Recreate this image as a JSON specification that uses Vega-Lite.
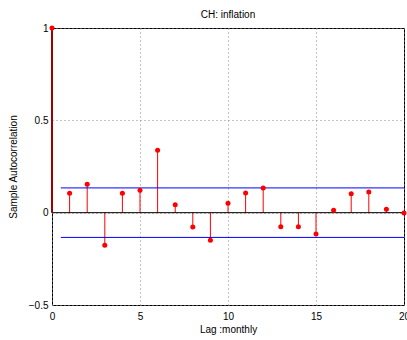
{
  "$schema": "https://vega.github.io/schema/vega-lite/v6.json",
  "width": 352,
  "height": 277,
  "autosize": "none",
  "padding": {"left": 52, "top": 28, "right": 3, "bottom": 35},
  "background": "white",
  "config": {
    "font": "Liberation Sans",
    "view": {"stroke": "black", "strokeWidth": 1},
    "axis": {"labelFont": "Liberation Sans", "titleFont": "Liberation Sans", "labelColor": "black", "titleColor": "black", "titleFontWeight": "normal", "labelFontSize": 10, "titleFontSize": 10}
  },
  "title": {"text": "CH: inflation", "fontSize": 10, "fontWeight": "normal", "font": "Liberation Sans", "offset": 3, "color": "black"},
  "datasets": {
    "acf": [
      {"lag": 0, "acf": 1.0},
      {"lag": 1, "acf": 0.105},
      {"lag": 2, "acf": 0.154},
      {"lag": 3, "acf": -0.177},
      {"lag": 4, "acf": 0.105},
      {"lag": 5, "acf": 0.121},
      {"lag": 6, "acf": 0.338},
      {"lag": 7, "acf": 0.043},
      {"lag": 8, "acf": -0.078},
      {"lag": 9, "acf": -0.150},
      {"lag": 10, "acf": 0.051},
      {"lag": 11, "acf": 0.107},
      {"lag": 12, "acf": 0.134},
      {"lag": 13, "acf": -0.076},
      {"lag": 14, "acf": -0.076},
      {"lag": 15, "acf": -0.115},
      {"lag": 16, "acf": 0.013},
      {"lag": 17, "acf": 0.103},
      {"lag": 18, "acf": 0.112},
      {"lag": 19, "acf": 0.018},
      {"lag": 20, "acf": -0.002}
    ],
    "upper": [{"bstart": 0.5, "bend": 20, "bval": 0.134}],
    "lower": [{"bstart": 0.5, "bend": 20, "bval": -0.134}],
    "zero": [{"zstart": 0, "zend": 20, "zval": 0}]
  },
  "layer": [
    {
      "data": {"name": "acf"},
      "mark": {"type": "rule", "stroke": "#ff0000", "strokeWidth": 1},
      "encoding": {
        "x": {"field": "lag", "type": "quantitative", "scale": {"domain": [0, 20], "nice": false},
          "axis": {"values": [0, 5, 10, 15, 20], "grid": true, "gridDash": [1, 3], "gridColor": "#888888", "gridOpacity": 1, "ticks": false, "domain": false, "labelPadding": 6, "labelFlush": false, "title": "Lag :monthly", "titlePadding": 3}},
        "y": {"field": "acf", "type": "quantitative", "scale": {"domain": [-0.5, 1], "nice": false},
          "axis": {"values": [-0.5, 0, 0.5, 1], "format": "~g", "grid": true, "gridDash": [1, 3], "gridColor": "#888888", "gridOpacity": 1, "ticks": false, "domain": false, "labelPadding": 4, "labelFlush": false, "title": "Sample Autocorrelation", "titlePadding": 10}},
        "y2": {"datum": 0}
      }
    },
    {
      "data": {"name": "zero"},
      "mark": {"type": "rule", "stroke": "black", "strokeWidth": 1},
      "encoding": {
        "x": {"field": "zstart", "type": "quantitative"},
        "x2": {"field": "zend"},
        "y": {"field": "zval", "type": "quantitative"}
      }
    },
    {
      "data": {"name": "upper"},
      "mark": {"type": "rule", "stroke": "#0000ff", "strokeWidth": 1},
      "encoding": {
        "x": {"field": "bstart", "type": "quantitative"},
        "x2": {"field": "bend"},
        "y": {"field": "bval", "type": "quantitative"}
      }
    },
    {
      "data": {"name": "lower"},
      "mark": {"type": "rule", "stroke": "#0000ff", "strokeWidth": 1},
      "encoding": {
        "x": {"field": "bstart", "type": "quantitative"},
        "x2": {"field": "bend"},
        "y": {"field": "bval", "type": "quantitative"}
      }
    },
    {
      "data": {"name": "acf"},
      "transform": [{"filter": "datum.lag == 0"}],
      "mark": {"type": "rule", "stroke": "#a00000", "strokeWidth": 2},
      "encoding": {
        "x": {"field": "lag", "type": "quantitative"},
        "y": {"field": "acf", "type": "quantitative"},
        "y2": {"datum": 0}
      }
    },
    {
      "data": {"name": "acf"},
      "mark": {"type": "point", "filled": true, "fill": "#ff0000", "stroke": null, "opacity": 1, "size": 25, "clip": false},
      "encoding": {
        "x": {"field": "lag", "type": "quantitative"},
        "y": {"field": "acf", "type": "quantitative"}
      }
    }
  ]
}
